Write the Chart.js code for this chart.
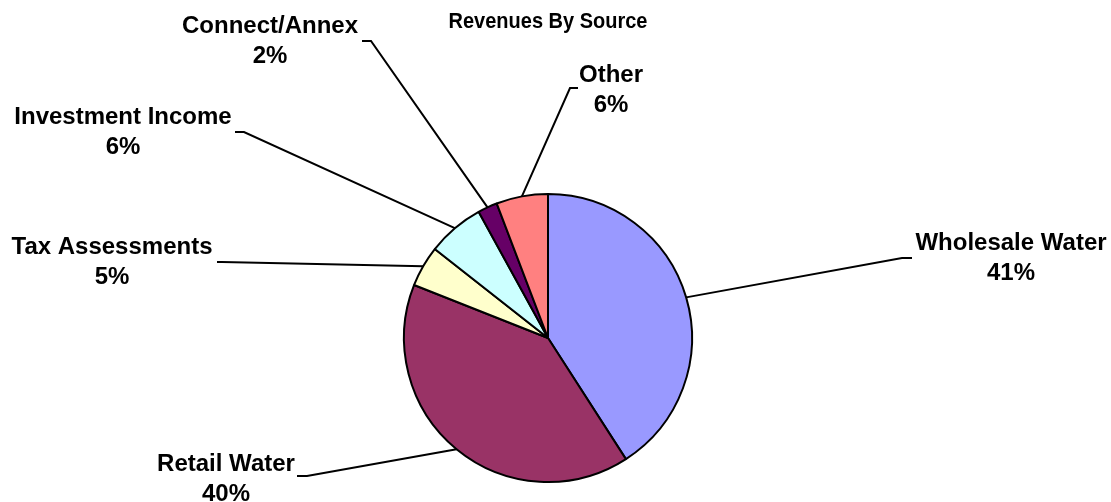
<!DOCTYPE html>
<html>
<head>
<meta charset="utf-8">
<title>Revenues By Source</title>
<script src="https://cdn.jsdelivr.net/npm/chart.js@4.4.1/dist/chart.umd.min.js"></script>
<style>
    html, body { margin: 0; padding: 0; background: #fff; }
    #wrap { width: 1111px; height: 502px; }
</style>
</head>
<body>
<div id="wrap"><canvas id="revenueChart" width="1111" height="502"></canvas></div>
<script>
// chart data
const chartTitle = 'Revenues By Source';
const categories = ['Wholesale Water', 'Retail Water', 'Tax Assessments', 'Investment Income', 'Connect/Annex', 'Other'];
const shares = [40.9, 40.1, 4.6, 6.4, 2.2, 5.8];
const sliceColors = ['#9999FF', '#993366', '#FFFFCC', '#CCFFFF', '#660066', '#FF8080'];

// where each label sits and how its leader line bends (layout only)
const labelLayout = [
    { tx: 1011, ty: 250, elbow: [902, 258], end: [912, 258] },
    { tx: 226, ty: 471, elbow: [307, 476], end: [297, 476] },
    { tx: 112, ty: 254, elbow: [222, 262], end: [217, 262] },
    { tx: 123, ty: 124, elbow: [244, 132], end: [235, 132] },
    { tx: 270, ty: 33, elbow: [371, 41], end: [362, 41] },
    { tx: 611, ty: 82, elbow: [570, 88], end: [578, 88] }
];

const FONT = 'bold 24px "Liberation Sans", Arial, sans-serif';
const LINE_GAP = 30;

const calloutPlugin = {
    id: 'callouts',
    afterDatasetsDraw(chart) {
        const ctx = chart.ctx;
        const meta = chart.getDatasetMeta(0);
        const total = shares.reduce((a, b) => a + b, 0);
        ctx.save();
        ctx.strokeStyle = '#000';
        ctx.lineWidth = 2;
        ctx.fillStyle = '#000';
        ctx.font = FONT;
        ctx.textAlign = 'center';
        ctx.textBaseline = 'alphabetic';

        meta.data.forEach((arc, i) => {
            const p = arc.getProps(['x', 'y', 'startAngle', 'endAngle', 'outerRadius'], true);
            const mid = (p.startAngle + p.endAngle) / 2;
            const sx = p.x + Math.cos(mid) * p.outerRadius;
            const sy = p.y + Math.sin(mid) * p.outerRadius;
            const lay = labelLayout[i];

            ctx.beginPath();
            ctx.moveTo(sx, sy);
            ctx.lineTo(lay.elbow[0], lay.elbow[1]);
            ctx.lineTo(lay.end[0], lay.end[1]);
            ctx.stroke();

            const pct = Math.round(shares[i] / total * 100) + '%';
            ctx.fillText(categories[i], lay.tx, lay.ty);
            ctx.fillText(pct, lay.tx, lay.ty + LINE_GAP);
        });

        // title centred over the pie, a little taller than wide like the original
        const cx = meta.data[0].x;
        ctx.font = 'bold 20px "Liberation Sans", Arial, sans-serif';
        ctx.translate(cx, 28);
        ctx.scale(1, 1.12);
        ctx.fillText(chartTitle, 0, 0);
        ctx.restore();
    }
};

const ctx = document.getElementById('revenueChart').getContext('2d');
new Chart(ctx, {
    type: 'pie',
    data: {
        labels: categories,
        datasets: [{
            data: shares,
            backgroundColor: sliceColors,
            borderColor: '#000',
            borderWidth: 2
        }]
    },
    options: {
        responsive: false,
        animation: false,
        layout: {
            padding: { top: 193, bottom: 19, left: 0, right: 15 }
        },
        plugins: {
            legend: { display: false },
            tooltip: { enabled: false },
            title: { display: false }
        }
    },
    plugins: [calloutPlugin]
});
</script>
</body>
</html>
